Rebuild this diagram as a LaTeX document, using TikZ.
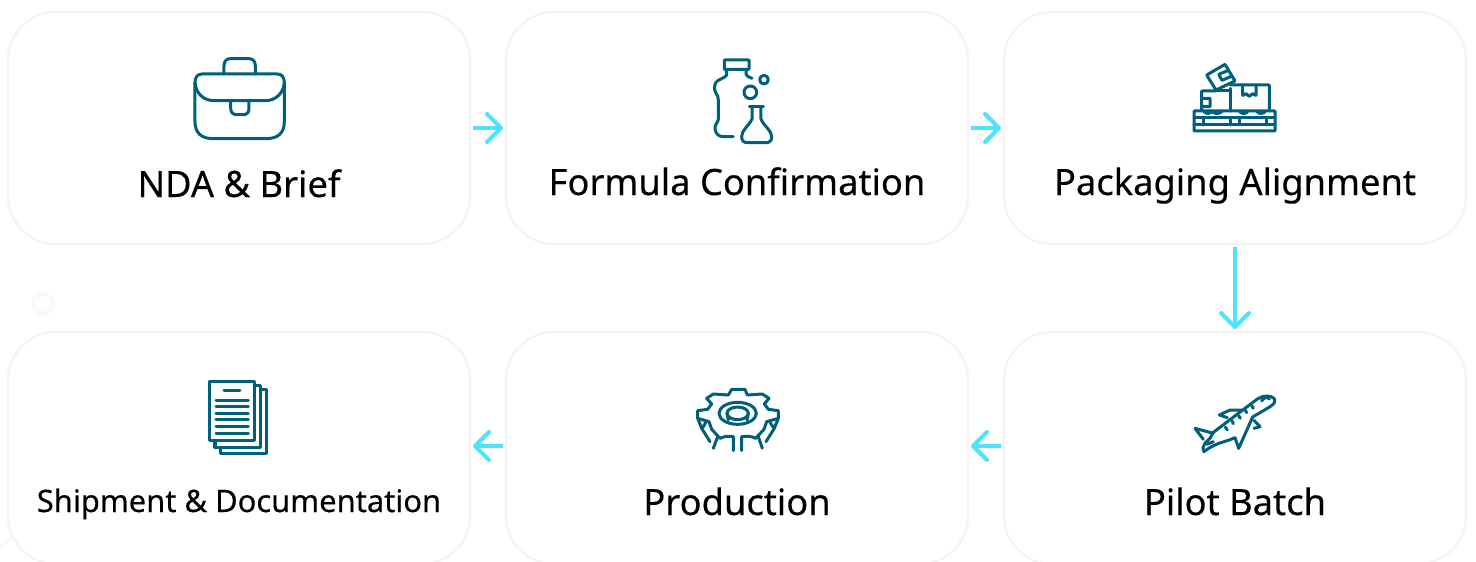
\documentclass[tikz,border=0pt]{standalone}
\usepackage{fontspec}
\setmainfont[FakeBold=0.25]{Noto Sans}
\usetikzlibrary{arrows.meta}
\definecolor{cardline}{HTML}{F2F3F4}
\definecolor{flow}{HTML}{4DE3FF}
\definecolor{ink}{HTML}{00607A}
\definecolor{faint}{HTML}{F7F8FB}
\tikzset{
  x=1pt,y=-1pt,
  card/.style={draw=cardline,line width=2pt,fill=white,rounded corners=48pt,minimum width=462pt,minimum height=232pt,inner sep=0pt},
  lab/.style={text=black,inner sep=0pt,anchor=base,font=\fontsize{36.3}{40}\selectfont},
  smalllab/.style={text=black,inner sep=0pt,anchor=base,font=\fontsize{30.9}{36}\selectfont},
  flowline/.style={draw=flow,line width=4pt,-{Straight Barb[length=14pt,width=28pt,line width=4pt,round]},shorten >=2pt,shorten <=2pt},
  icon/.style={draw=ink,line width=3pt,line join=round,line cap=round,rounded corners=0.5pt},
  izoom/.style 2 args={shift={(#1,#2)},x=0.3333pt,y=-0.3333pt},
}
\begin{document}
\begin{tikzpicture}
\useasboundingbox (0,0) rectangle (1476,562);
\fill[white] (0,0) rectangle (1476,562);
% faint background marks
\draw[faint,line width=4pt,line join=round] (43,293) -- (52,298) -- (52,309) -- (43,315) -- (34,309) -- (34,298) -- cycle;
\draw[faint,line width=3pt] (0,547) -- (13,537);
% cards
\node[card] (c1) at (239,128) {};
\node[card] (c2) at (737,128) {};
\node[card] (c3) at (1235,128) {};
\node[card] (c4) at (1235,448) {};
\node[card] (c5) at (737,448) {};
\node[card] (c6) at (239,448) {};
% labels
\node[lab] (t1) at (239,197) {NDA \& Brief};
\node[lab] (t2) at (737,195) {Formula Confirmation};
\node[lab] (t3) at (1235,195) {Packaging Alignment};
\node[lab] (t4) at (1235,515) {Pilot Batch};
\node[lab] (t5) at (737,515) {Production};
\node[smalllab] (t6) at (239,512) {Shipment \& Documentation};
% connectors
\draw[flowline] (c1.east) -- (c2.west);
\draw[flowline] (c2.east) -- (c3.west);
\draw[flowline] (c3.south) -- (c4.north);
\draw[flowline] ([yshift=2pt]c4.west) -- ([yshift=2pt]c5.east);
\draw[flowline] ([yshift=2pt]c5.west) -- ([yshift=2pt]c6.east);
% briefcase
\begin{scope}[izoom={170}{40}]
\draw[icon,rounded corners=0pt] (162,102) -- (162,78) .. controls (162,62) and (170,56) .. (182,56) -- (236,56) .. controls (248,56) and (256,62) .. (256,78) -- (256,102);
\draw[icon,rounded corners=0pt] (96,102) -- (322,102) .. controls (336,102) and (343,112) .. (343,128) .. controls (340,160) and (318,182) .. (285,182) -- (133,182) .. controls (100,182) and (78,160) .. (75,128) .. controls (75,112) and (82,102) .. (96,102) -- cycle;
\draw[icon,rounded corners=0pt] (75,128) -- (75,245) .. controls (75,280) and (95,296) .. (130,296) -- (288,296) .. controls (323,296) and (343,280) .. (343,245) -- (343,128);
\draw[icon,rounded corners=0pt] (182,182) -- (182,205) .. controls (182,218) and (190,224) .. (200,224) -- (220,224) .. controls (230,224) and (237,218) .. (237,205) -- (237,182);
\end{scope}
% bottle and flask
\begin{scope}[izoom={690}{45}]
\draw[icon] (103,45) rectangle (177,73);
\draw[icon,rounded corners=0pt] (110,73) -- (110,90) .. controls (105,100) and (85,102) .. (78,112) .. controls (72,122) and (72,135) .. (78,145) .. controls (83,152) and (85,155) .. (85,165) -- (85,222) .. controls (85,232) and (74,238) .. (75,250) .. controls (76,268) and (88,275) .. (100,275) -- (130,275);
\draw[icon,rounded corners=0pt] (168,73) -- (168,88) .. controls (170,94) and (178,97) .. (186,100);
\draw[icon] (222,104) circle [radius=13];
\draw[icon] (181,142) circle [radius=19];
\draw[icon,rounded corners=0pt] (178,185) -- (220,185);
\draw[icon,rounded corners=0pt] (186,185) -- (186,222) .. controls (175,245) and (155,255) .. (155,275) .. controls (155,288) and (162,293) .. (172,293) -- (228,293) .. controls (238,293) and (245,288) .. (245,275) .. controls (245,255) and (222,245) .. (213,222) -- (213,185);
\end{scope}
% pallet and boxes
\begin{scope}[izoom={1180}{55}]
\draw[icon] (42,168) rectangle (285,228);
\draw[icon,rounded corners=0pt] (42,188) -- (285,188) (42,210) -- (285,210);
\draw[icon,rounded corners=0pt] (70,188) -- (70,210) (150,188) -- (150,210) (178,188) -- (178,210) (260,188) -- (260,210);
\draw[icon] (65,168) -- (65,108) -- (108,108);
\draw[icon] (112,108) -- (150,108);
\draw[icon] (150,100) -- (150,168);
\draw[icon] (152,90) -- (268,90) -- (268,168);
\draw[icon] (68,130) -- (90,130) -- (90,155) -- (68,155);
\draw[icon] (188,90) -- (188,122) -- (198,116) -- (208,124) -- (218,116) -- (228,122) -- (228,90);
\draw[icon] (80,60) -- (135,28) -- (165,78) -- (108,105) -- cycle;
\draw[icon] (143,47) -- (116,58) -- (126,76) -- (154,64);
\draw[icon,rounded corners=0pt] (72,168) .. controls (75,178) and (92,178) .. (95,168) .. controls (100,178) and (122,178) .. (127,168);
\draw[icon,rounded corners=0pt] (178,168) .. controls (182,178) and (200,178) .. (204,168) (230,168) .. controls (234,178) and (252,178) .. (256,168);
\end{scope}
% aeroplane
\begin{scope}[izoom={1180}{385}]
\draw[icon,rounded corners=0pt] (232,42) .. controls (250,30) and (275,30) .. (284,42) .. controls (288,55) and (275,62) .. (262,70) -- (218,96) -- (176,190) -- (165,158) .. controls (145,168) and (120,172) .. (105,180) .. controls (92,186) and (82,192) .. (72,200) .. controls (68,190) and (68,182) .. (75,175) -- (90,160) -- (100,142) -- (232,42);
\draw[icon,rounded corners=0pt] (100,145) -- (45,130) -- (70,163);
\draw[icon,rounded corners=0pt] (185,75) -- (150,75) -- (118,90) -- (142,98);
\draw[icon,rounded corners=0pt] (222,106) -- (240,125) -- (222,130);
\draw[icon,rounded corners=0pt] (245,48) .. controls (250,38) and (262,34) .. (268,42);
\draw[icon,rounded corners=0pt] (216,63) -- (220,70) (196,76) -- (200,83) (176,92) -- (181,100) (156,108) -- (160,116) (136,126) -- (142,135);
\draw[icon,rounded corners=0pt] (80,178) -- (100,170);
\end{scope}
% gear
\begin{scope}[izoom={685}{380}]
\draw[icon,rounded corners=0pt] (105,175) -- (80,148) -- (72,125) -- (38,115) -- (38,92) -- (68,88) -- (80,72) -- (65,55) -- (85,42) -- (130,45) -- (140,28) -- (180,28) -- (187,45) -- (232,42) -- (252,55) -- (238,72) -- (250,88) -- (280,92) -- (280,115) -- (245,125) -- (237,148) -- (212,175);
\draw[icon,rounded corners=0pt] (105,175) .. controls (120,168) and (130,168) .. (145,170) -- (145,212);
\draw[icon,rounded corners=0pt] (212,175) .. controls (198,168) and (188,168) .. (170,170) -- (170,212);
\draw[icon] (158,100) ellipse [x radius=56,y radius=33];
\draw[icon] (158,100) ellipse [x radius=32,y radius=19];
\draw[icon,rounded corners=0pt] (126,100) -- (130,120) (190,100) -- (186,120);
\draw[icon,rounded corners=0pt] (98,170) -- (85,205) (220,170) -- (232,205);
\draw[icon,rounded corners=0pt] (38,115) -- (50,145) -- (75,185) (62,128) -- (52,145);
\draw[icon,rounded corners=0pt] (280,115) -- (268,145) -- (243,185) (255,128) -- (268,145);
\end{scope}
% documents
\begin{scope}[izoom={195}{370}]
\draw[icon,rounded corners=0pt,line cap=butt] (42,33) rectangle (180,212);
\draw[icon,rounded corners=0pt] (180,45) -- (198,45) -- (198,232) -- (60,232) -- (60,212);
\draw[icon,rounded corners=0pt] (198,58) -- (214,58) -- (214,250) -- (78,250) -- (78,232);
\draw[icon,rounded corners=0pt] (87,60) -- (135,60);
\foreach \ly in {92,110,130,150,170,190} \draw[icon,rounded corners=0pt] (63,\ly) -- (160,\ly);
\end{scope}
\end{tikzpicture}
\end{document}
